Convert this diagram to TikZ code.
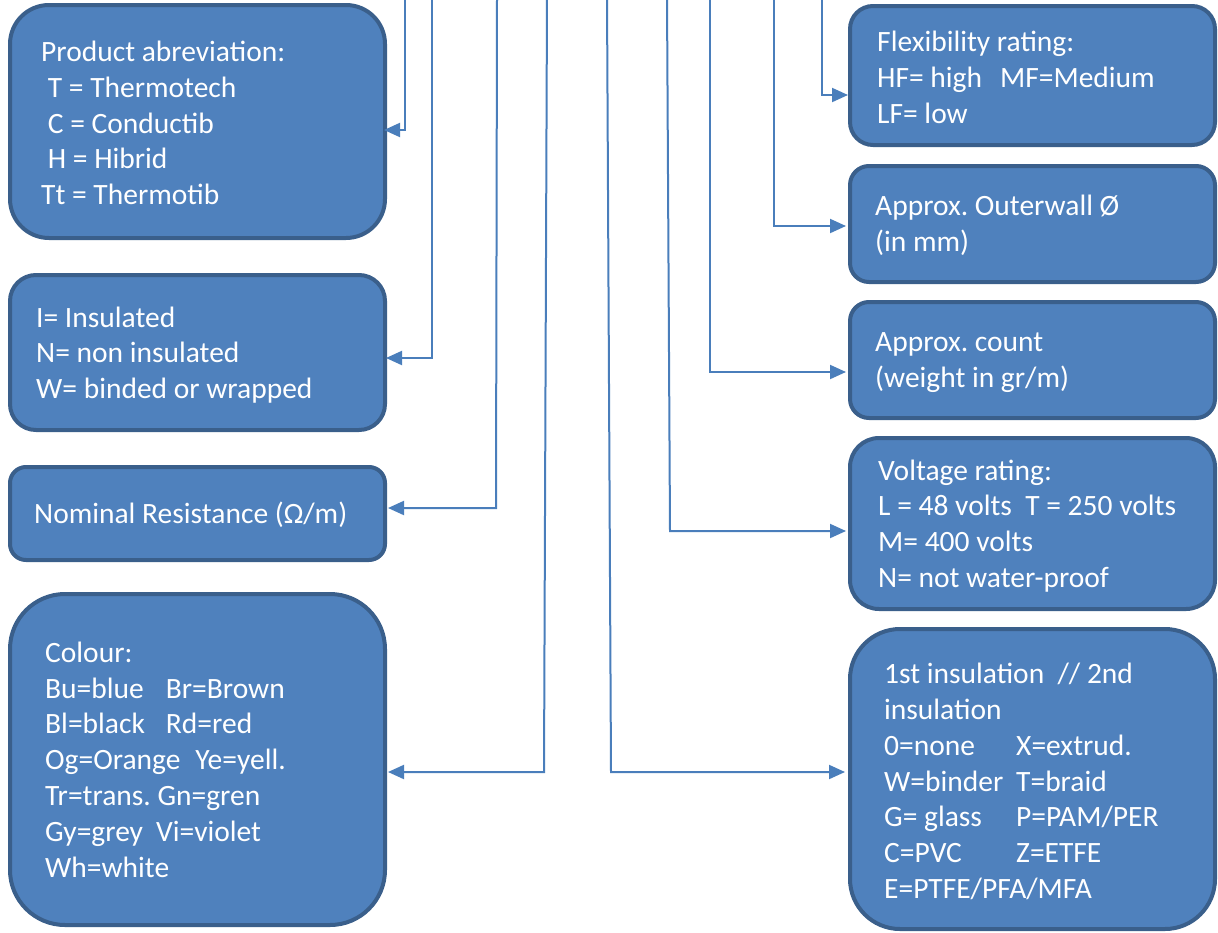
\documentclass[tikz,border=0pt]{standalone}
\usepackage{fontspec}
\setmainfont{Carlito}
\usetikzlibrary{arrows.meta}
\definecolor{boxfill}{HTML}{4F81BD}
\definecolor{boxline}{HTML}{3A5F8B}
\definecolor{linkcol}{HTML}{4A7EBB}
\frenchspacing
\newcommand{\colA}[1]{\makebox[132pt][l]{#1}}
\tikzset{
    BOX/.style ={rectangle, draw=boxline, fill=boxfill, line width=4pt, inner sep=0pt},
    TXT/.style ={anchor=west, align=left, inner sep=0pt, text=white, font=\fontsize{29.5}{35.8}\selectfont},
    LNK/.style ={draw=linkcol, line width=2pt, -{Triangle[length=16pt,width=14pt]}}
}

\begin{document}
\begin{tikzpicture}[x=1pt,y=-1pt]
        \useasboundingbox (0,0) rectangle (1218,932);
        % left column
        \node[BOX, minimum width=375pt, minimum height=233pt, rounded corners=39pt] (prod) at (197.5,121.5) {};
        \node[BOX, minimum width=375pt, minimum height=155pt, rounded corners=26pt] (insl) at (197.5,352.5) {};
        \node[BOX, minimum width=375pt, minimum height=93pt, rounded corners=16pt] (resi) at (197.5,513.5) {};
        \node[BOX, minimum width=375pt, minimum height=331pt, rounded corners=55pt] (colr) at (197.5,759.5) {};
        % right column
        \node[BOX, minimum width=365pt, minimum height=139pt, rounded corners=23pt] (flex) at (1032.5,75.5) {};
        \node[BOX, minimum width=365pt, minimum height=116pt, rounded corners=19pt] (wall) at (1032.5,224) {};
        \node[BOX, minimum width=365pt, minimum height=116pt, rounded corners=19pt] (cnt) at (1032.5,360) {};
        \node[BOX, minimum width=365pt, minimum height=171pt, rounded corners=29pt] (volt) at (1032.5,523.5) {};
        \node[BOX, minimum width=365pt, minimum height=300pt, rounded corners=50pt] (insu) at (1032.5,779) {};

        \node[TXT] (prodt) at (41,123) {Product abreviation:\\\ T = Thermotech\\\ C = Conductib\\\ H = Hibrid\\Tt = Thermotib};
        \node[TXT] (inslt) at (36,355) {I= Insulated\\N= non insulated\\W= binded or wrapped};
        \node[TXT] (resit) at (34,515) {Nominal Resistance (Ω/m)};
        \node[TXT] (colrt) at (45,759.5) {Colour:\\Bu=blue\hspace{22pt}Br=Brown\\Bl=black\hspace{21pt}Rd=red\\Og=Orange\hspace{15pt}Ye=yell.\\Tr=trans. Gn=gren\\Gy=grey\hspace{13pt}Vi=violet\\Wh=white};
        \node[TXT] (flext) at (877,77.5) {Flexibility rating:\\HF= high\hspace{18pt}MF=Medium\\LF= low};
        \node[TXT] (wallt) at (875,225) {Approx. Outerwall Ø\\(in mm)};
        \node[TXT] (cntt) at (875,362.5) {Approx. count\\(weight in gr/m)};
        \node[TXT] (voltt) at (878,526) {Voltage rating:\\L = 48 volts\ \ T = 250 volts\\M= 400 volts\\N= not water-proof};
        \node[TXT] (insut) at (884,781.5) {1st insulation\ \ // 2nd\\insulation\\\colA{0=none}X=extrud.\\\colA{W=binder}T=braid\\\colA{G= glass}P=PAM/PER\\\colA{C=PVC}Z=ETFE\\E=PTFE/PFA/MFA};

        % leads from the top
        \coordinate (p1) at (405,-2);   \coordinate (e1) at (384,130);
        \coordinate (p2) at (432,-2);   \coordinate (e2) at (386,358);
        \coordinate (p3) at (497,-2);   \coordinate (k3) at (496,508);  \coordinate (e3) at (388,508);
        \coordinate (p4) at (547,-2);   \coordinate (k4) at (544,772);  \coordinate (e4) at (388,772);
        \coordinate (p5) at (607,-2);   \coordinate (k5) at (611,772);  \coordinate (e5) at (845,772);
        \coordinate (p6) at (667,-2);   \coordinate (k6) at (670,531);  \coordinate (e6) at (846,531);
        \coordinate (p7) at (710,-2);   \coordinate (e7) at (846,372);
        \coordinate (p8) at (774,-2);   \coordinate (e8) at (846,226);
        \coordinate (p9) at (822,-2);   \coordinate (e9) at (848,95);
        \draw[LNK] (p1) |- (e1);
        \draw[LNK] (p2) |- (e2);
        \draw[LNK] (p3) -- (k3) -- (e3);
        \draw[LNK] (p4) -- (k4) -- (e4);
        \draw[LNK] (p5) -- (k5) -- (e5);
        \draw[LNK] (p6) -- (k6) -- (e6);
        \draw[LNK] (p7) |- (e7);
        \draw[LNK] (p8) |- (e8);
        \draw[LNK] (p9) |- (e9);
    \end{tikzpicture}
\end{document}
